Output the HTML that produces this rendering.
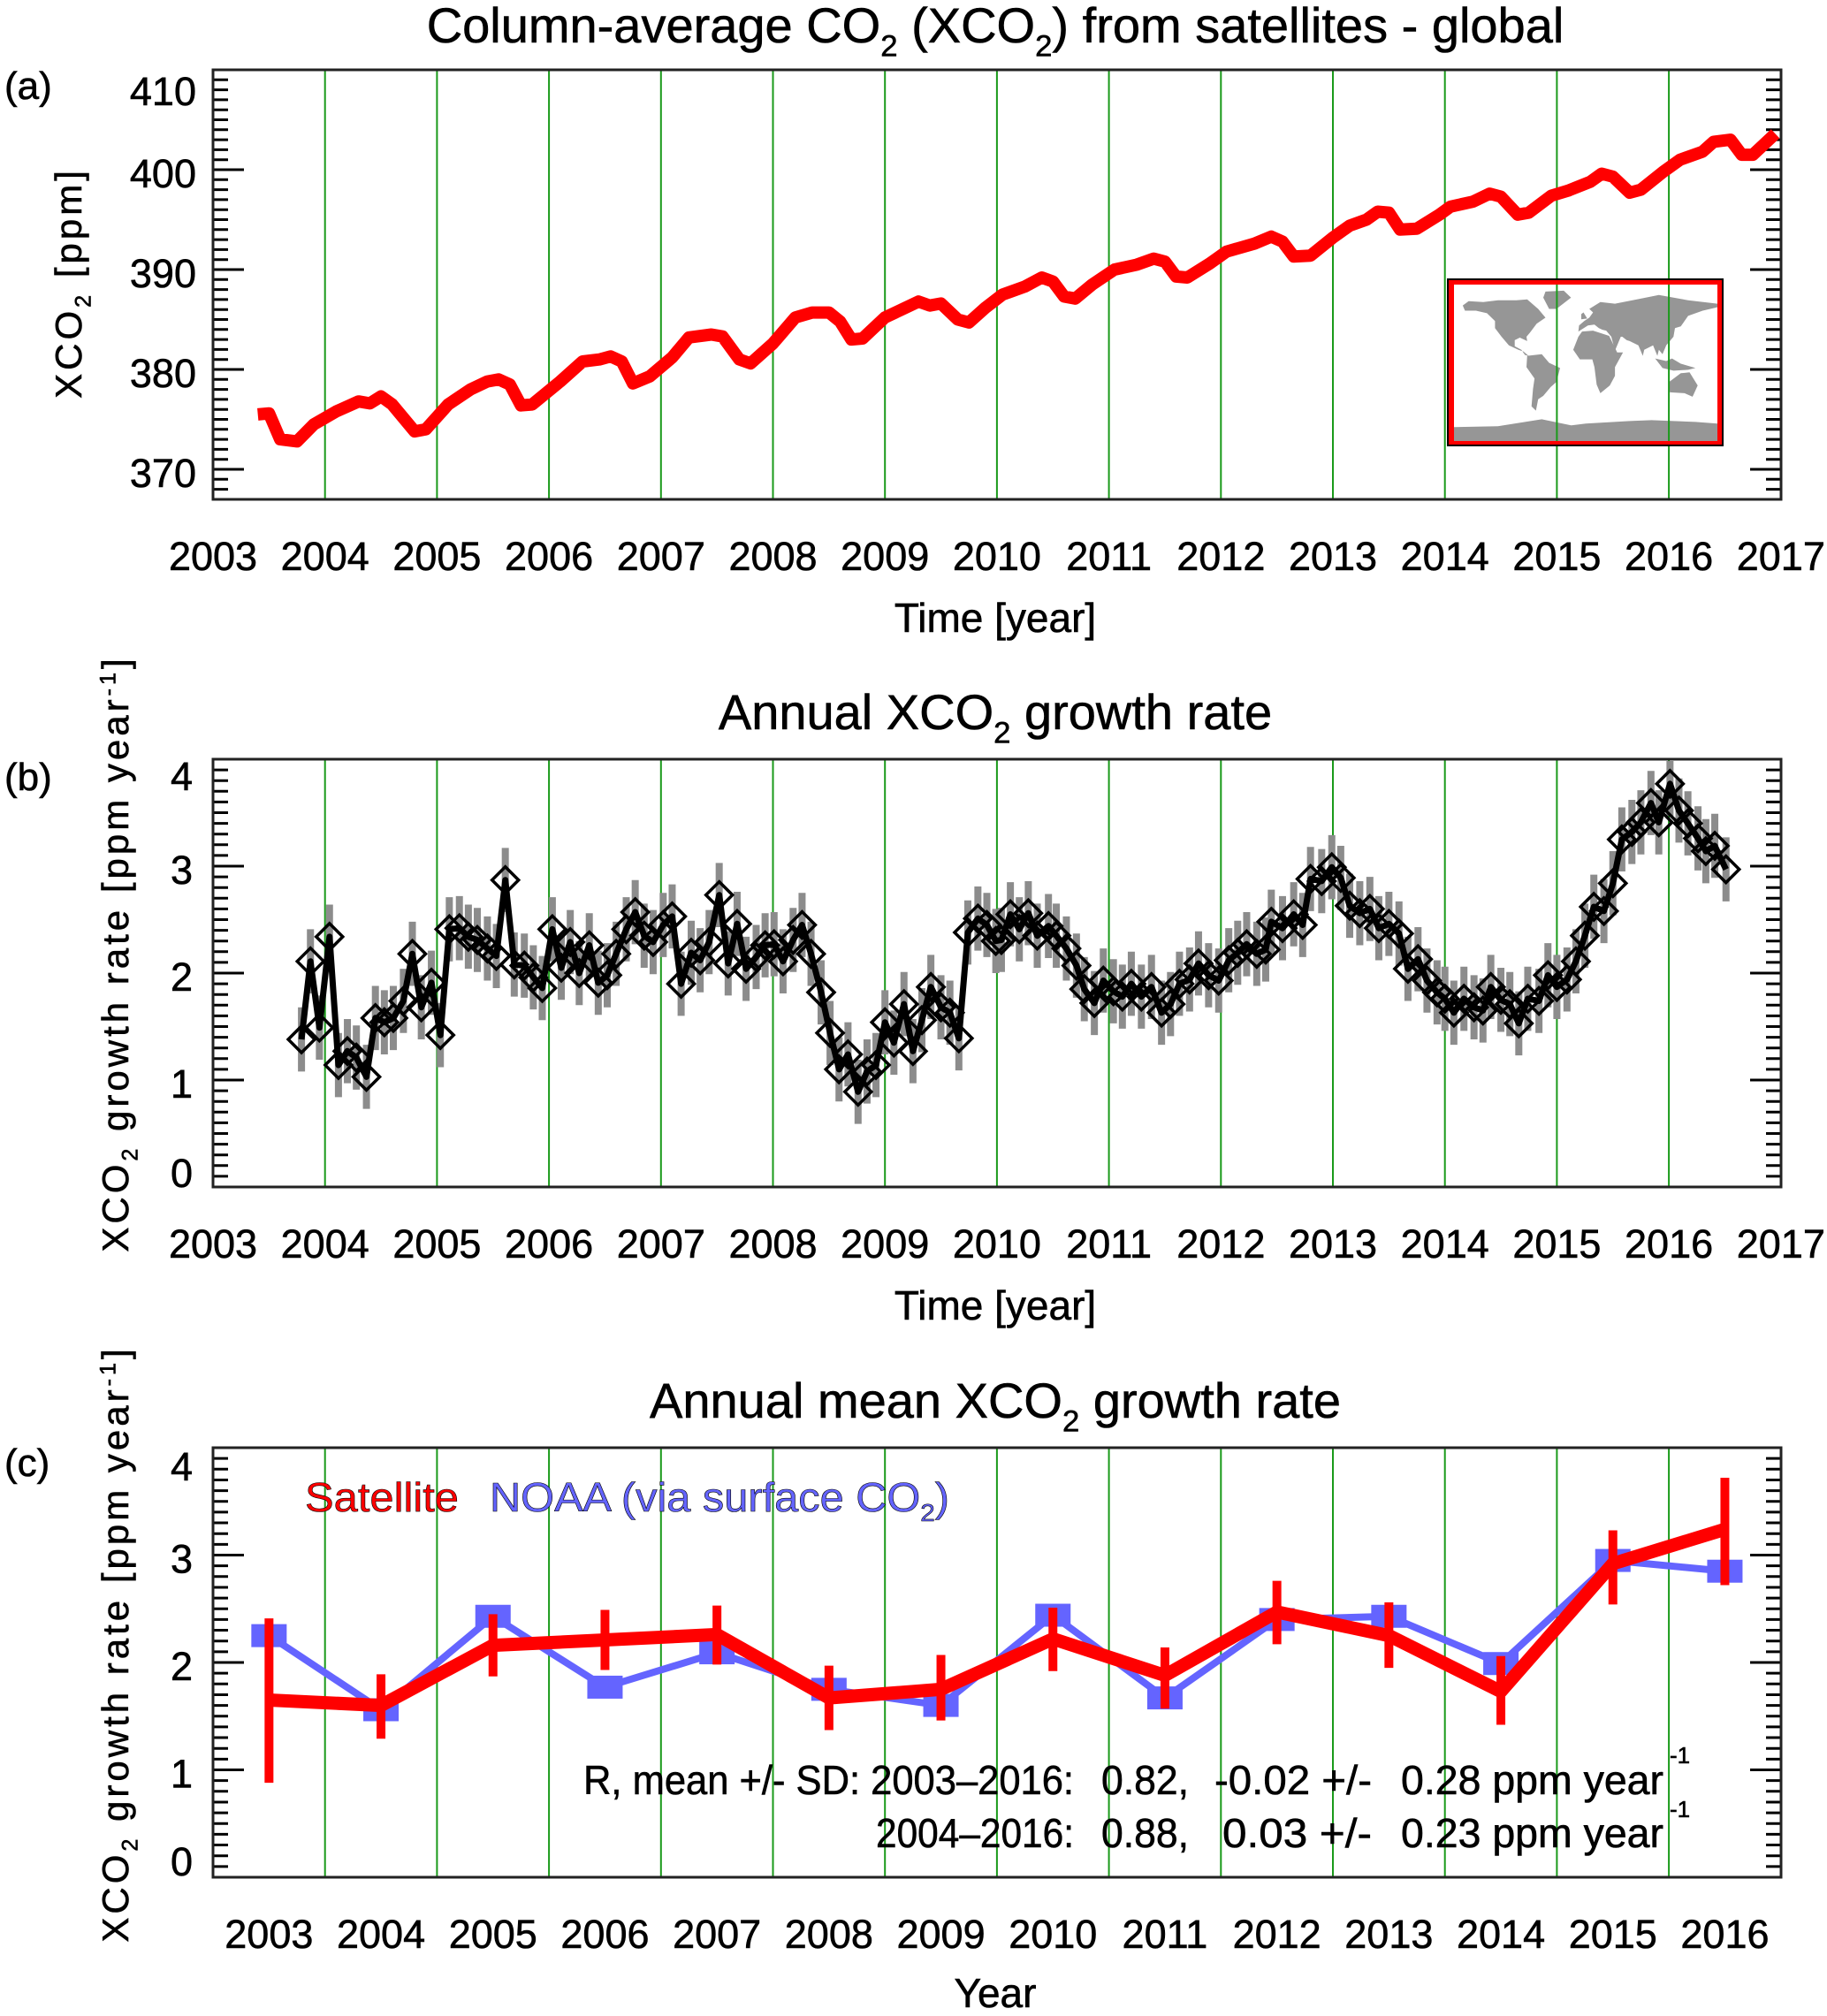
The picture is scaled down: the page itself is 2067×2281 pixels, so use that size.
<!DOCTYPE html>
<html><head><meta charset="utf-8"><style>
html,body{margin:0;padding:0;background:#fff;}
svg{display:block;font-family:"Liberation Sans",Arial,sans-serif;}
text{stroke:#000;stroke-width:0.6px;}
</style></head><body>
<svg id="fig" xmlns="http://www.w3.org/2000/svg" width="2067" height="2281" viewBox="0 0 2067 2281">
<rect width="2067" height="2281" fill="#fff"/>
<g id="layer"></g>
</svg>
<script>
// ---------- data ----------
var xTickYears = [2003,2004,2005,2006,2007,2008,2009,2010,2011,2012,2013,2014,2015,2016,2017];
var aTickVals = [370,380,390,400,410];
var bTickVals = [0,1,2,3,4];
var cTickVals = [0,1,2,3,4];
var aTime = [2003.4,2003.5,2003.6,2003.75,2003.9,2004.1,2004.3,2004.4,2004.5,2004.6,2004.8,2004.9,2005.1,2005.3,2005.45,2005.55,2005.65,2005.75,2005.85,2006.1,2006.3,2006.45,2006.55,2006.65,2006.75,2006.9,2007.1,2007.25,2007.45,2007.55,2007.7,2007.8,2008.0,2008.2,2008.35,2008.5,2008.6,2008.7,2008.8,2009.0,2009.15,2009.3,2009.4,2009.5,2009.65,2009.75,2009.9,2010.05,2010.25,2010.4,2010.5,2010.6,2010.7,2010.85,2011.05,2011.25,2011.4,2011.5,2011.6,2011.7,2011.9,2012.05,2012.3,2012.45,2012.55,2012.65,2012.8,2013.0,2013.15,2013.3,2013.4,2013.5,2013.6,2013.75,2013.95,2014.05,2014.25,2014.4,2014.5,2014.65,2014.75,2014.95,2015.1,2015.3,2015.4,2015.5,2015.65,2015.75,2015.95,2016.1,2016.3,2016.4,2016.55,2016.65,2016.75,2016.95];
var aXco2 = [375.5,375.6,373.0,372.8,374.5,375.8,376.8,376.6,377.3,376.5,373.8,374.0,376.5,378.0,378.8,379.0,378.5,376.4,376.5,378.8,380.8,381.0,381.3,380.8,378.6,379.3,381.2,383.2,383.5,383.3,381.0,380.6,382.6,385.2,385.7,385.7,384.8,383.0,383.1,385.2,386.0,386.8,386.4,386.6,385.0,384.7,386.2,387.5,388.3,389.2,388.8,387.3,387.1,388.5,390.0,390.5,391.1,390.8,389.3,389.2,390.6,391.8,392.6,393.3,392.8,391.3,391.4,393.2,394.4,395.0,395.8,395.7,394.0,394.1,395.5,396.3,396.8,397.6,397.3,395.5,395.7,397.4,397.9,398.8,399.6,399.3,397.7,398.0,399.8,401.0,401.8,402.8,403.0,401.5,401.5,403.6];
var bTime = [2003.79,2003.87,2003.95,2004.04,2004.12,2004.2,2004.28,2004.37,2004.45,2004.53,2004.61,2004.7,2004.78,2004.86,2004.95,2005.03,2005.11,2005.2,2005.28,2005.36,2005.45,2005.53,2005.61,2005.69,2005.78,2005.86,2005.94,2006.03,2006.11,2006.19,2006.27,2006.36,2006.44,2006.52,2006.6,2006.69,2006.77,2006.85,2006.93,2007.02,2007.1,2007.18,2007.27,2007.35,2007.43,2007.52,2007.6,2007.68,2007.76,2007.85,2007.93,2008.01,2008.09,2008.18,2008.26,2008.34,2008.43,2008.51,2008.59,2008.67,2008.76,2008.84,2008.92,2009.0,2009.08,2009.17,2009.25,2009.33,2009.41,2009.5,2009.58,2009.66,2009.74,2009.83,2009.91,2009.99,2010.04,2010.12,2010.2,2010.28,2010.36,2010.46,2010.53,2010.62,2010.71,2010.78,2010.87,2010.95,2011.04,2011.12,2011.2,2011.29,2011.38,2011.47,2011.55,2011.63,2011.72,2011.8,2011.89,2011.98,2012.07,2012.15,2012.23,2012.32,2012.4,2012.45,2012.55,2012.65,2012.73,2012.8,2012.9,2012.99,2013.07,2013.15,2013.24,2013.33,2013.41,2013.5,2013.59,2013.67,2013.76,2013.84,2013.93,2014.0,2014.08,2014.17,2014.26,2014.34,2014.41,2014.5,2014.58,2014.66,2014.74,2014.84,2014.92,2015.0,2015.09,2015.17,2015.25,2015.33,2015.42,2015.5,2015.58,2015.67,2015.75,2015.84,2015.91,2016.01,2016.09,2016.17,2016.26,2016.33,2016.41,2016.51];
var bRate = [1.38,2.11,1.49,2.34,1.14,1.27,1.21,1.03,1.58,1.54,1.58,1.74,2.18,1.68,1.91,1.42,2.41,2.42,2.34,2.31,2.23,2.16,2.87,2.08,2.07,1.96,1.86,2.41,2.05,2.29,2.0,2.26,1.91,1.98,2.18,2.41,2.57,2.35,2.29,2.45,2.53,1.9,2.19,2.12,2.29,2.73,2.09,2.46,2.04,2.15,2.26,2.27,2.11,2.31,2.45,2.18,1.82,1.44,1.1,1.24,0.89,1.08,1.14,1.54,1.35,1.71,1.27,1.56,1.87,1.68,1.63,1.39,2.38,2.51,2.45,2.3,2.31,2.55,2.41,2.56,2.35,2.44,2.35,2.23,2.07,1.85,1.72,1.93,1.83,1.78,1.9,1.78,1.87,1.63,1.71,1.9,1.94,2.09,1.98,1.93,2.12,2.19,2.27,2.18,2.22,2.48,2.42,2.55,2.45,2.88,2.86,2.99,2.89,2.63,2.56,2.6,2.42,2.46,2.37,2.04,2.13,1.93,1.82,1.76,1.63,1.76,1.68,1.65,1.87,1.75,1.71,1.53,1.76,1.74,1.98,1.87,1.94,2.11,2.35,2.62,2.58,2.84,3.25,3.32,3.41,3.59,3.41,3.77,3.52,3.4,3.26,3.14,3.19,2.97];
var bErr = 0.3;
var cYears = [2003,2004,2005,2006,2007,2008,2009,2010,2011,2012,2013,2014,2015,2016];
var satRate = [1.65,1.6,2.16,2.21,2.26,1.67,1.75,2.22,1.88,2.47,2.25,1.73,2.92,3.24];
var satLo = [0.88,1.29,1.87,1.93,1.98,1.37,1.46,1.92,1.57,2.17,1.95,1.42,2.54,2.72];
var satHi = [2.41,1.89,2.45,2.49,2.53,1.97,2.07,2.51,2.14,2.76,2.56,2.06,3.23,3.72];
var noaaRate = [2.25,1.56,2.43,1.77,2.09,1.75,1.6,2.44,1.67,2.4,2.43,1.99,2.95,2.85];

// ---------- helpers ----------
var NS="http://www.w3.org/2000/svg";
var layer=document.getElementById('layer');
function el(tag,attrs,parent){var e=document.createElementNS(NS,tag);for(var k in attrs)e.setAttribute(k,attrs[k]);(parent||layer).appendChild(e);return e;}
var X0=241, XW=126.7, PL=241, PR=2015;
function xYear(t){return X0+(t-2003)*XW;}
function ya(v){return 79+(410-v)*11.3;}
function yb(v){return 1343-v*121;}
function yc(v){return 2124-v*121.5;}
function txt(s,x,y,size,anchor,fill,parent){var t=el('text',{x:x,y:y,'font-size':size,'text-anchor':anchor||'middle',fill:fill||'#000'},parent);if(fill&&fill!=='#000')t.setAttribute('stroke',fill);t.textContent=s;return t;}

function panelFrame(top,bottom,name,yfun,vmin,vmax,minorStep,majorStep){
  var g=el('g',{});
  
  
  for(var i=1;i<xTickYears.length-1;i++){
    var gl=el('line',{x1:xYear(xTickYears[i]),x2:xYear(xTickYears[i]),y1:top,y2:bottom,stroke:'#1a9a1a','stroke-width':2},g);
    
    
  }
  var n=Math.round((vmax-vmin)/minorStep);
  for(var k=0;k<=n;k++){
    var v=vmin+k*minorStep, y=yfun(v);
    if(y<top+2||y>bottom-2)continue;
    var major=Math.abs(v/majorStep-Math.round(v/majorStep))<1e-6;
    var L=major?35:17;
    el('line',{x1:PL,x2:PL+L,y1:y,y2:y,stroke:'#000','stroke-width':3},g);
    el('line',{x1:PR,x2:PR-L,y1:y,y2:y,stroke:'#000','stroke-width':3},g);
  }
  el('rect',{x:PL,y:top,width:PR-PL,height:bottom-top,fill:'none',stroke:'#222','stroke-width':3},g);
  return g;
}
function yLabels(vals,yfun,lo,hi,xr,name){
  vals.forEach(function(v){
    var c=Math.min(Math.max(yfun(v)+4,lo),hi);
    var t=txt(String(v),xr,c+16,45,'end');
    
    
  });
}
function xLabels(years,offset,base,name){
  years.forEach(function(yr){
    var t=txt(String(yr),xYear(yr+offset),base,45,'middle');
    
    
  });
}
function titleWithSub(parts,x,y,size,name){
  var t=el('text',{x:x,y:y,'font-size':size,'text-anchor':'middle'});
  
  
  parts.forEach(function(p){var s=el('tspan',{},t);s.textContent=p[0];if(p[1]){s.setAttribute('font-size',size*0.62);s.setAttribute('dy',size*0.28);}else if(p[2]){s.setAttribute('dy',-size*0.28);}});
  return t;
}
function yTitle(cx,cy,size,withYear,name){
  var t=el('text',{x:0,y:0,'font-size':size,'text-anchor':'middle',transform:'translate('+cx+','+cy+') rotate(-90)','letter-spacing':'4'});
  
  
  var a=el('tspan',{},t);a.textContent='XCO';
  var b=el('tspan',{'font-size':size*0.6,dy:size*0.25},t);b.textContent='2';
  if(!withYear){var c=el('tspan',{dy:-size*0.25},t);c.textContent=' [ppm]';}
  else{var c2=el('tspan',{dy:-size*0.25},t);c2.textContent=' growth rate [ppm year';
    var d=el('tspan',{'font-size':size*0.6,dy:-size*0.35},t);d.textContent='-1';
    var e=el('tspan',{dy:size*0.35},t);e.textContent=']';}
}

// ---------- panel a ----------
titleWithSub([['Column-average CO'],['2',1],[' (XCO',0,1],['2',1],[') from satellites -  global',0,1]],1126,48,56,'panel-a-title');
var la=txt('(a)',5,112,44,'start');
panelFrame(79,565,'panel-a',ya,367,410,1,10);
yLabels(aTickVals,ya,103,540,222,'panel-a');
xLabels(xTickYears,0,645,'panel-a');
var ta=txt('Time [year]',1126,715,46);
yTitle(92,320,42,false,'panel-a-y-axis-title');
var pa=aTime.map(function(t,i){return xYear(t).toFixed(1)+','+ya(aXco2[i]).toFixed(1);}).join(' ');
var lineA=el('polyline',{points:pa,fill:'none',stroke:'#f00','stroke-width':14,'stroke-linejoin':'round'});



// map inset
var mg=el('g',{});


el('rect',{x:1637,y:315,width:313,height:190,fill:'#000'},mg);
el('rect',{x:1639,y:317,width:309,height:186,fill:'#f00'},mg);
el('rect',{x:1645,y:322,width:298,height:177,fill:'#fff'},mg);
function mx(lon){return 1645+(lon+180)/360*298;}
function my(lat){return 322+(90-lat)/180*177;}
var continents=[
[[-168,66],[-160,71],[-140,70],[-120,72],[-95,72],[-80,73],[-65,62],[-55,52],[-67,45],[-76,35],[-81,30],[-80,25],[-90,29],[-97,26],[-97,19],[-88,15],[-83,9],[-78,8],[-85,13],[-92,15],[-105,20],[-115,30],[-124,40],[-124,48],[-135,57],[-150,60],[-165,60]],
[[-55,82],[-30,83],[-20,75],[-40,62],[-50,62],[-58,75]],
[[-80,8],[-60,10],[-50,0],[-35,-6],[-40,-22],[-48,-28],[-58,-38],[-65,-42],[-68,-55],[-74,-50],[-72,-30],[-70,-18],[-81,-5]],
[[-17,15],[-10,30],[-5,36],[10,37],[32,31],[43,12],[51,12],[40,-5],[40,-15],[33,-26],[20,-35],[15,-25],[12,-5],[9,4],[-8,4]],
[[-10,36],[-9,43],[-2,48],[5,52],[10,58],[5,62],[20,70],[40,68],[70,73],[100,78],[140,72],[180,68],[180,64],[160,60],[140,54],[130,42],[122,40],[120,30],[110,20],[105,10],[100,15],[98,8],[92,20],[80,15],[78,8],[72,20],[60,25],[56,26],[50,30],[48,30],[40,14],[35,30],[28,37],[23,38],[18,40],[12,44],[3,43]],
[[114,-22],[130,-12],[142,-11],[153,-26],[146,-39],[135,-35],[115,-34]],
[[95,5],[105,-6],[120,-9],[140,-8],[150,-6],[130,-1],[118,5],[110,2]],
[[-6,50],[2,51],[-3,58],[-6,56]],
[[-180,-74],[-120,-73],[-60,-65],[-20,-72],[0,-70],[60,-67],[90,-66],[150,-68],[180,-70],[180,-90],[-180,-90]]
];
continents.forEach(function(c){el('polygon',{points:c.map(function(p){return mx(p[0]).toFixed(1)+','+my(p[1]).toFixed(1);}).join(' '),fill:'#969696'},mg);});
[2015,2016].forEach(function(yr){el('line',{x1:xYear(yr),x2:xYear(yr),y1:322,y2:499,stroke:'#1a9a1a','stroke-width':2},mg);});

// ---------- panel b ----------
titleWithSub([['Annual XCO'],['2',1],[' growth rate',0,1]],1126,825,56,'panel-b-title');
var lb=txt('(b)',5,894,44,'start');
panelFrame(859,1343,'panel-b',yb,0,4,0.1,1);
yLabels(bTickVals,yb,878,1327,218,'panel-b');
xLabels(xTickYears,0,1423,'panel-b');
var tb=txt('Time [year]',1126,1493,46);
yTitle(145,1079,42,true,'panel-b-y-axis-title');
var eg=el('g',{});


bTime.forEach(function(t,i){el('line',{x1:xYear(t),x2:xYear(t),y1:Math.max(yb(bRate[i]+bErr),861),y2:yb(bRate[i]-bErr),stroke:'#8c8c8c','stroke-width':8},eg);});
var pb=bTime.map(function(t,i){return xYear(t).toFixed(1)+','+yb(bRate[i]).toFixed(1);}).join(' ');
var lineB=el('polyline',{points:pb,fill:'none',stroke:'#000','stroke-width':7,'stroke-linejoin':'round'});


var dg=el('g',{});


bTime.forEach(function(t,i){var x=xYear(t),y=yb(bRate[i]),h=15;
  el('polygon',{points:x+','+(y-h)+' '+(x+h)+','+y+' '+x+','+(y+h)+' '+(x-h)+','+y,fill:'none',stroke:'#000','stroke-width':3.5},dg);});

// ---------- panel c ----------
titleWithSub([['Annual mean XCO'],['2',1],[' growth rate',0,1]],1126,1604,56,'panel-c-title');
var lc=txt('(c)',5,1670,44,'start');
panelFrame(1638,2124,'panel-c',yc,0,4,0.1,1);
yLabels(cTickVals,yc,1659,2106,218,'panel-c');
xLabels(cYears,0.5,2204,'panel-c');
var tc=txt('Year',1126,2271,46);
yTitle(145,1860,42,true,'panel-c-y-axis-title');
var pn=cYears.map(function(yr,i){return xYear(yr+0.5).toFixed(1)+','+yc(noaaRate[i]).toFixed(1);}).join(' ');
var lineN=el('polyline',{points:pn,fill:'none',stroke:'#6464ff','stroke-width':8});


cYears.forEach(function(yr,i){var s=el('rect',{x:xYear(yr+0.5)-20,y:yc(noaaRate[i])-13,width:40,height:26,fill:'#6464ff'});
  
  });
var ps=cYears.map(function(yr,i){return xYear(yr+0.5).toFixed(1)+','+yc(satRate[i]).toFixed(1);}).join(' ');
var lineS=el('polyline',{points:ps,fill:'none',stroke:'#f00','stroke-width':15,'stroke-linejoin':'round'});


cYears.forEach(function(yr,i){var e=el('line',{x1:xYear(yr+0.5),x2:xYear(yr+0.5),y1:yc(satHi[i]),y2:yc(satLo[i]),stroke:'#f00','stroke-width':10});
  
  });
var lg1=txt('Satellite',345,1710,46,'start','#f00');lg1.setAttribute('textLength','174');lg1.setAttribute('lengthAdjust','spacingAndGlyphs');
var lg2=el('text',{x:554,y:1710,'font-size':46,fill:'#6464ff',stroke:'#6464ff',textLength:520,lengthAdjust:'spacingAndGlyphs'});


var s1=el('tspan',{},lg2);s1.textContent='NOAA (via surface CO';
var s2=el('tspan',{'font-size':28,dy:11},lg2);s2.textContent='2';
var s3=el('tspan',{dy:-11},lg2);s3.textContent=')';
function stat(s,x,y,len,name){var t=txt(s,x,y,46,'start');t.setAttribute('textLength',len);t.setAttribute('lengthAdjust','spacingAndGlyphs');}
stat('R, mean +/- SD: 2003–2016:',660,2030,555,'stats-label-2003');
stat('0.82,',1246,2030,99,'stats-r-2003');
stat('-0.02 +/-',1374,2030,178,'stats-mean-2003');
stat('0.28 ppm year',1585,2030,297,'stats-sd-2003');
var sp1=txt('-1',1889,1995,26,'start');
stat('2004–2016:',991,2090,224,'stats-label-2004');
stat('0.88,',1246,2090,99,'stats-r-2004');
stat('0.03 +/-',1383,2090,169,'stats-mean-2004');
stat('0.23 ppm year',1585,2090,297,'stats-sd-2004');
var sp2=txt('-1',1889,2056,26,'start');
</script>
</body></html>
